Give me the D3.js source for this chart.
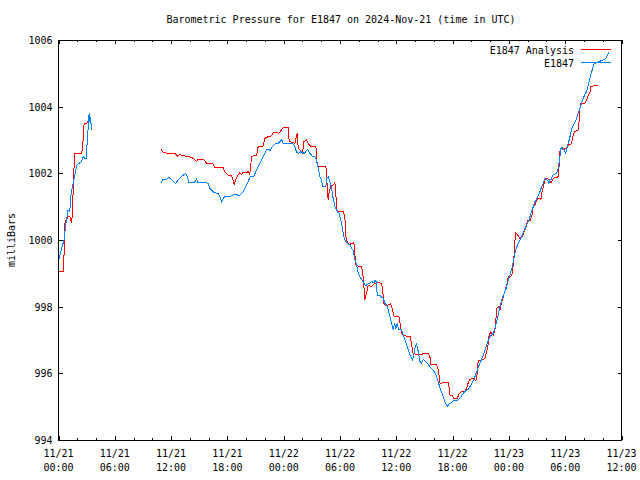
<!DOCTYPE html>
<html><head><meta charset="utf-8">
<script src="https://cdn.jsdelivr.net/npm/d3@7"></script>
<style>
body{margin:0;background:#fff;}
text{font-family:"DejaVu Sans Mono","Liberation Mono",monospace;font-size:10px;fill:#000;}
</style></head>
<body><svg id="c" width="640" height="480"></svg>
<script>
// hours since 2024-11-21 00:00 UTC
const analysisHours = [0.03,0.57,0.60,0.63,0.70,0.85,1.02,1.21,1.31,1.42,1.53,1.63,1.74,2.45,2.56,2.73,2.99,3.12,3.44,
 null,
 10.91,11.15,11.51,12.47,12.69,12.93,13.28,13.82,14.18,14.46,14.71,14.88,15.42,15.78,16.48,16.66,17.55,17.73,18.08,18.44,18.61,18.72,18.90,19.15,19.33,19.51,19.68,20.04,20.21,20.39,20.58,20.75,21.11,21.28,21.64,21.81,21.99,22.35,22.63,22.77,22.88,23.24,23.49,23.77,23.94,24.48,24.55,24.66,25.01,25.19,25.37,25.48,25.54,25.72,26.01,26.15,26.44,26.72,26.97,27.43,27.51,27.57,28.04,28.21,28.50,28.57,28.74,28.85,29.00,29.27,29.46,29.56,29.64,29.91,30.34,30.52,30.63,30.77,30.98,31.24,31.48,31.59,31.70,31.94,32.30,32.47,32.55,32.65,32.83,33.01,33.37,33.72,34.07,34.43,34.54,34.68,34.89,35.14,35.39,35.61,35.75,36.10,36.31,36.57,36.74,37.03,37.45,37.63,37.74,37.98,38.33,38.59,38.94,39.40,39.58,39.69,39.94,40.30,40.47,40.58,40.66,41.00,41.54,41.64,41.72,42.00,42.14,42.50,42.71,42.96,43.32,43.50,43.67,43.85,44.20,44.49,44.63,44.73,45.10,45.45,45.63,45.80,45.87,46.06,46.33,46.51,46.59,46.69,46.86,47.05,47.29,47.51,47.65,47.83,47.93,48.22,48.36,48.47,48.57,48.65,48.72,48.93,49.18,49.36,49.53,49.71,49.89,50.00,50.24,50.43,50.60,50.78,50.96,51.24,51.42,51.49,51.66,51.85,52.03,52.27,52.48,52.73,53.09,53.26,53.34,53.44,53.55,53.79,54.16,54.33,54.62,54.75,54.86,54.97,55.39,55.50,55.57,55.68,56.11,56.29,56.46,56.64,56.72,56.99,57.46];
const analysisValues = [999.05,999.05,999.9,1000.1,1000.55,1000.6,1000.72,1000.72,1000.6,1000.53,1001.2,1002.05,1002.6,1002.6,1002.75,1003.5,1003.5,1003.55,1003.58,
 null,
 1002.72,1002.64,1002.6,1002.58,1002.52,1002.56,1002.53,1002.5,1002.48,1002.42,1002.35,1002.42,1002.43,1002.3,1002.28,1002.18,1002.17,1002.05,1001.94,1001.92,1001.8,1001.65,1001.82,1001.95,1002.02,1001.97,1002.03,1002.02,1002.05,1001.97,1002.5,1002.52,1002.55,1002.8,1002.8,1002.82,1003.05,1003.1,1003.12,1003.15,1003.23,1003.23,1003.2,1003.3,1003.37,1003.37,1003.05,1002.95,1002.92,1002.9,1003.15,1003.2,1002.75,1002.7,1002.6,1002.95,1003.0,1002.85,1002.8,1002.8,1002.55,1002.2,1002.2,1002.22,1002.22,1001.9,1001.2,1001.45,1001.6,1001.65,1001.72,1001.4,1000.9,1000.85,1000.85,1000.68,1000.1,999.95,999.85,999.9,999.92,999.55,999.25,999.22,999.2,998.9,998.6,998.2,998.4,998.65,998.6,998.7,998.72,998.7,998.5,998.1,998.02,998.05,998.08,997.9,997.72,997.72,997.68,997.2,997.15,997.12,997.12,996.9,996.62,996.58,996.58,996.55,996.6,996.6,996.5,996.28,996.28,996.25,996.1,995.9,995.7,995.72,995.72,995.55,995.35,995.32,995.25,995.25,995.4,995.45,995.45,995.55,995.72,995.82,995.85,995.78,996.0,996.4,996.4,996.45,996.65,996.9,997.1,997.25,997.15,997.3,997.5,997.95,998.0,997.9,998.2,998.4,998.55,998.7,998.9,998.92,999.0,999.25,999.6,1000.0,1000.22,1000.15,1000.05,1000.08,1000.18,1000.3,1000.45,1000.58,1000.58,1000.7,1001.0,1001.05,1001.22,1001.25,1001.22,1001.4,1001.6,1001.8,1001.85,1001.82,1001.72,1001.85,1001.88,1001.9,1002.2,1002.65,1002.75,1002.72,1002.75,1002.85,1002.88,1003.0,1003.15,1003.25,1003.3,1003.6,1003.95,1004.1,1004.1,1004.2,1004.35,1004.42,1004.6,1004.62,1004.64];

const observedHours = [0.06,0.43,0.60,0.70,0.85,1.02,1.20,1.31,1.42,1.63,1.84,1.98,2.20,2.45,2.62,2.80,2.94,3.05,3.16,3.26,3.34,3.41,3.52,
 null,
 10.91,11.15,11.51,11.76,12.11,12.47,12.69,13.11,13.54,13.75,13.89,14.46,14.71,14.88,15.78,15.95,16.13,16.38,16.59,17.02,17.20,17.38,17.55,17.73,18.37,18.80,19.08,19.22,19.51,19.68,19.94,20.21,20.39,20.58,20.82,21.11,21.46,21.81,21.99,22.17,22.42,22.53,22.77,23.06,23.41,23.59,23.77,23.94,24.84,25.01,25.19,25.37,25.62,25.83,26.18,26.33,26.55,26.79,27.04,27.32,27.51,27.68,27.86,28.04,28.14,28.50,28.57,28.74,28.92,29.10,29.27,29.46,29.70,29.91,30.17,30.34,30.52,30.77,31.06,31.24,31.41,31.59,31.77,31.94,32.12,32.47,32.65,32.83,33.01,33.37,33.62,33.72,33.86,33.97,34.26,34.61,34.79,34.97,35.14,35.32,35.50,35.67,35.82,35.96,36.10,36.25,36.57,36.74,36.92,37.10,37.27,37.45,37.74,37.88,37.98,38.17,38.34,38.52,38.70,38.87,39.05,39.30,39.58,39.94,40.22,40.47,40.66,40.94,41.19,41.43,41.64,41.90,42.14,42.60,42.78,42.96,43.13,43.39,43.67,43.85,44.14,44.38,44.63,44.91,45.27,45.52,45.74,45.98,46.16,46.33,46.51,46.69,46.86,47.05,47.23,47.51,47.76,47.93,48.12,48.36,48.57,48.72,48.93,49.18,49.42,49.64,49.89,50.14,50.35,50.60,50.78,51.07,51.31,51.49,51.66,51.85,52.03,52.20,52.27,52.38,52.48,52.62,52.73,53.09,53.26,53.44,53.55,53.69,53.90,54.05,54.16,54.33,54.51,54.69,54.97,55.22,55.39,55.57,55.75,55.93,56.11,56.29,56.46,56.64,56.82,56.99,57.10,57.36,57.53,57.89,58.24,58.42,58.70];
const observedValues = [999.42,999.85,1000.0,1000.3,1000.6,1000.9,1000.85,1001.3,1001.5,1001.8,1002.1,1002.25,1002.3,1002.35,1002.5,1002.45,1002.45,1002.9,1003.35,1003.8,1003.55,1003.7,1003.3,
 null,
 1001.72,1001.82,1001.82,1001.88,1001.8,1001.7,1001.78,1001.9,1002.0,1001.9,1001.72,1001.72,1001.82,1001.72,1001.72,1001.7,1001.55,1001.48,1001.42,1001.4,1001.3,1001.15,1001.25,1001.3,1001.32,1001.38,1001.35,1001.32,1001.4,1001.45,1001.6,1001.75,1001.88,1001.92,1001.92,1002.1,1002.3,1002.5,1002.6,1002.7,1002.72,1002.68,1002.8,1002.88,1002.9,1002.95,1003.02,1002.9,1002.9,1002.88,1002.8,1002.63,1002.6,1002.65,1002.6,1002.65,1002.72,1002.6,1002.52,1002.5,1002.4,1002.15,1001.9,1001.8,1001.62,1001.62,1001.85,1001.9,1001.75,1001.55,1001.25,1001.0,1000.85,1000.8,1000.5,1000.2,1000.0,999.9,999.85,999.75,999.7,999.4,999.25,999.0,998.9,998.75,998.65,998.65,998.68,998.75,998.72,998.78,998.75,998.35,998.33,998.25,998.1,998.05,997.9,997.7,997.5,997.3,997.5,997.35,997.5,997.32,997.3,997.15,997.0,996.85,996.7,996.55,996.4,996.6,996.75,996.88,996.65,996.35,996.3,996.42,996.38,996.3,996.2,996.1,995.95,995.75,995.55,995.35,995.15,995.0,995.08,995.12,995.2,995.2,995.25,995.32,995.4,995.48,995.52,995.6,995.75,995.9,996.1,996.3,996.55,996.75,996.95,997.1,997.15,997.2,997.35,997.55,997.75,998.0,998.2,998.4,998.6,998.8,998.95,999.2,999.5,999.7,999.85,1000.0,1000.15,1000.3,1000.45,1000.6,1000.8,1001.0,1001.15,1001.3,1001.45,1001.6,1001.7,1001.85,1001.82,1001.75,1001.7,1001.82,1001.8,1001.92,1001.95,1002.0,1002.15,1002.5,1002.75,1002.78,1002.7,1002.6,1002.75,1002.9,1003.1,1003.35,1003.5,1003.65,1003.8,1003.95,1004.1,1004.25,1004.38,1004.45,1004.65,1004.85,1005.05,1005.2,1005.3,1005.32,1005.35,1005.38,1005.42,1005.5,1005.65];

const yTicks = [994, 996, 998, 1000, 1002, 1004, 1006];
const xTickHours = [0, 6, 12, 18, 24, 30, 36, 42, 48, 54, 60];
const xTickDates = ["11/21","11/21","11/21","11/21","11/22","11/22","11/22","11/22","11/23","11/23","11/23"];
const xTickTimes = ["00:00","06:00","12:00","18:00","00:00","06:00","12:00","18:00","00:00","06:00","12:00"];
const seriesNames = ["E1847 Analysis", "E1847"];
const seriesColors = ["#ff0000", "#0080ff"];
const titleText = "Barometric Pressure for E1847 on 2024-Nov-21 (time in UTC)";
const yLabel = "milliBars";

const svg = d3.select("#c");
const L = 58.5, R = 621.5, T = 40, B = 440;
const x = d3.scaleLinear().domain([0, 60]).range([L, R]);
const y = d3.scaleLinear().domain([994, 1006]).range([B, T]);

// title
svg.append("text").attr("x", 341).attr("y", 23).attr("text-anchor", "middle").text(titleText);
// y label
svg.append("text").attr("transform", "translate(15,240) rotate(-90)").attr("text-anchor", "middle").text(yLabel);

// axes with ticks on all sides
const minor = d3.range(0, 61, 2).filter(h => h % 6 !== 0);
const g = svg.append("g").attr("shape-rendering", "crispEdges").attr("stroke", "#000");
const ax = (gen, tr) => svg.append("g").attr("transform", tr).call(gen)
  .call(s => { s.select(".domain").remove(); s.selectAll("line").attr("shape-rendering","crispEdges"); s.selectAll("text").remove(); });
ax(d3.axisBottom(x).tickValues(xTickHours).tickSize(-4), `translate(0,${B})`);
ax(d3.axisBottom(x).tickValues(minor).tickSize(-2), `translate(0,${B})`);
ax(d3.axisTop(x).tickValues(xTickHours).tickSize(-4), `translate(0,${T})`);
ax(d3.axisTop(x).tickValues(minor).tickSize(-2), `translate(0,${T})`);
ax(d3.axisLeft(y).tickValues(yTicks).tickSize(-4), `translate(${L},0)`);
ax(d3.axisRight(y).tickValues(yTicks).tickSize(-4), `translate(${R},0)`);

svg.append("rect").attr("x", L).attr("y", T).attr("width", R - L).attr("height", B - T)
  .attr("fill", "none").attr("stroke", "#000").attr("shape-rendering", "crispEdges");

// tick labels
yTicks.forEach(v => svg.append("text").attr("x", L - 6).attr("y", y(v) + 4).attr("text-anchor", "end").text(v));
xTickHours.forEach((h, i) => {
  svg.append("text").attr("x", x(h)).attr("y", 457).attr("text-anchor", "middle").text(xTickDates[i]);
  svg.append("text").attr("x", x(h)).attr("y", 471).attr("text-anchor", "middle").text(xTickTimes[i]);
});

// series
const line = d3.line().defined(d => d[0] !== null && d[1] !== null).x(d => x(d[0])).y(d => y(d[1]));
const series = [d3.zip(analysisHours, analysisValues), d3.zip(observedHours, observedValues)];
series.forEach((data, i) => {
  svg.append("path").datum(data).attr("d", line).attr("fill", "none")
    .attr("stroke", seriesColors[i]).attr("stroke-width", 1).attr("shape-rendering", "crispEdges");
});

// legend
seriesNames.forEach((n, i) => {
  const ly = 49.5 + i * 13;
  svg.append("text").attr("x", 574).attr("y", ly + 4).attr("text-anchor", "end").text(n);
  svg.append("line").attr("x1", 581).attr("x2", 611).attr("y1", ly).attr("y2", ly)
    .attr("stroke", seriesColors[i]).attr("shape-rendering", "crispEdges");
});
</script></body></html>
